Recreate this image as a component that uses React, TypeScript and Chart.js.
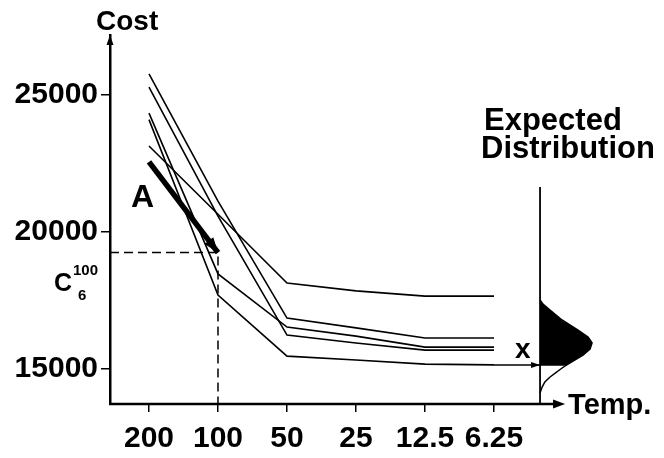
import React, { useEffect, useRef } from 'react';
import { Chart, registerables } from 'chart.js';

Chart.register(...registerables);

// ---- data ----
const temperatures = ['200', '100', '50', '25', '12.5', '6.25'];
const run1 = [25770, 21130, 16860, 16500, 16130, 16130];
const run2 = [25290, 20580, 16240, 15950, 15690, 15690];
const run3 = [24340, 18470, 16530, 16200, 15800, 15800];
const run4 = [24100, 17700, 15470, 15330, 15180, 15150];
const run5 = [23140, 20650, 18140, 17850, 17660, 17660];
const pathA = [22560, 19250]; // thick run "A" from T=200 to T=100
const c6At100 = 19250;
const yTicks = [15000, 20000, 25000];
const yMin = 13723;
const yMax = 27190;
const xMin = -0.565;
const xMax = 6.536;
const xAxisEnd = 6.03; // where the temperature axis arrow ends
const distAxisPos = 5.667; // position of distribution axis on temperature index scale
const distAxisTop = 21640;
// expected distribution: cost level vs. density (in index units)
const distCost = [17520, 17370, 17150, 16790, 16420, 16170, 15950, 15730, 15510, 15290, 15150];
const distDensity = [0, 0.043, 0.145, 0.319, 0.551, 0.696, 0.754, 0.725, 0.623, 0.478, 0.385];
const tailCost = [15150, 15000, 14850, 14710, 14530, 14340, 14120];
const tailDensity = [0.385, 0.3, 0.22, 0.145, 0.07, 0.03, 0];

const FONT = "'Liberation Sans', Arial, Helvetica, sans-serif";

const toPts = (vals: number[]) => vals.map((v, i) => ({ x: i, y: v }));

const annotPlugin = {
  id: 'annot',
  afterDraw(chart: any) {
    const ctx = chart.ctx as CanvasRenderingContext2D;
    const xs = chart.scales.x;
    const ys = chart.scales.y;
    const area = chart.chartArea;
    ctx.save();
    ctx.fillStyle = '#000';
    ctx.strokeStyle = '#000';
    const tri = (tipX: number, tipY: number, fromX: number, fromY: number, len: number, half: number) => {
      const ang = Math.atan2(tipY - fromY, tipX - fromX);
      const bx = tipX - len * Math.cos(ang);
      const by = tipY - len * Math.sin(ang);
      ctx.beginPath();
      ctx.moveTo(tipX, tipY);
      ctx.lineTo(bx + half * Math.sin(ang), by - half * Math.cos(ang));
      ctx.lineTo(bx - half * Math.sin(ang), by + half * Math.cos(ang));
      ctx.closePath();
      ctx.fill();
    };
    // x axis line
    const xEnd = xs.getPixelForValue(xAxisEnd);
    ctx.lineWidth = 2.5;
    ctx.beginPath();
    ctx.moveTo(area.left - 1, area.bottom);
    ctx.lineTo(xEnd - 6, area.bottom);
    ctx.stroke();
    // axis arrows
    tri(area.left, area.top, area.left, area.bottom, 10, 3.5);
    tri(xEnd, area.bottom, area.left, area.bottom, 12, 4.5);
    // arrow A
    const mA = chart.getDatasetMeta(5).data;
    if (mA.length >= 2) {
      const p0 = mA[0], p1 = mA[1];
      tri(p1.x, p1.y, p0.x, p0.y, 15, 5.5);
    }
    // x arrow to distribution
    const mX = chart.getDatasetMeta(7).data;
    if (mX.length >= 2) {
      tri(mX[1].x, mX[1].y, mX[0].x, mX[0].y, 9, 3);
    }
    // texts
    ctx.textBaseline = 'alphabetic';
    ctx.textAlign = 'left';
    ctx.font = `bold 28px ${FONT}`;
    ctx.fillText('Cost', 96, 30);
    ctx.font = `bold 31px ${FONT}`;
    ctx.fillText('Expected', 484, 130);
    ctx.fillText('Distribution', 481, 158);
    ctx.font = `bold 29px ${FONT}`;
    ctx.fillText('Temp.', xEnd + 3, 414);
    ctx.font = `bold 32px ${FONT}`;
    ctx.fillText('A', 131, 207);
    ctx.font = `bold 25px ${FONT}`;
    ctx.fillText('C', 54, 291);
    ctx.font = `bold 15px ${FONT}`;
    ctx.fillText('100', 73, 275);
    ctx.fillText('6', 78, 300);
    ctx.font = `bold 28px ${FONT}`;
    const yx = ys.getPixelForValue(run4[5]);
    ctx.fillText('x', xs.getPixelForValue(distAxisPos) - 25, yx - 7);
    ctx.restore();
  },
};

export default function App() {
  const ref = useRef<HTMLCanvasElement>(null);
  useEffect(() => {
    if (!ref.current) return;
    const thin = { borderColor: '#000', borderWidth: 1.6, pointRadius: 0, fill: false, tension: 0, clip: false };
    const chart = new Chart(ref.current, {
      type: 'line',
      data: {
        datasets: [
          { ...thin, data: toPts(run1) },
          { ...thin, data: toPts(run2) },
          { ...thin, data: toPts(run3) },
          { ...thin, data: toPts(run4) },
          { ...thin, data: toPts(run5) },
          { ...thin, borderWidth: 5.5, data: toPts(pathA) },
          {
            ...thin,
            borderWidth: 1.5,
            borderDash: [9, 5],
            data: [
              { x: xMin, y: c6At100 },
              { x: 1, y: c6At100 },
              { x: 1, y: yMin },
            ],
          },
          {
            ...thin,
            borderWidth: 1.5,
            data: [
              { x: 5, y: run4[5] },
              { x: distAxisPos, y: run4[5] },
            ],
          },
          {
            ...thin,
            borderWidth: 1.8,
            data: [
              { x: distAxisPos, y: yMin },
              { x: distAxisPos, y: distAxisTop },
            ],
          },
          {
            ...thin,
            borderWidth: 1.5,
            fill: 'shape',
            backgroundColor: '#000',
            data: [
              ...distCost.map((c, i) => ({ x: distAxisPos + distDensity[i], y: c })),
              { x: distAxisPos, y: distCost[distCost.length - 1] },
            ],
          },
          {
            ...thin,
            borderWidth: 1.5,
            data: tailCost.map((c, i) => ({ x: distAxisPos + tailDensity[i], y: c })),
          },
        ],
      } as any,
      options: {
        animation: false,
        responsive: false,
        devicePixelRatio: 1,
        layout: { padding: { top: 35, right: 64, bottom: 0, left: 0 } },
        plugins: { legend: { display: false }, tooltip: { enabled: false } },
        events: [],
        scales: {
          x: {
            type: 'linear',
            min: xMin,
            max: xMax,
            afterBuildTicks: (s: any) => {
              s.ticks = temperatures.map((_, i) => ({ value: i }));
            },
            afterFit: (s: any) => {
              s.height = 54;
            },
            ticks: {
              callback: (v: any) => temperatures[v as number] ?? '',
              font: { family: FONT, size: 30, weight: 'bold' },
              color: '#000',
              padding: 9,
              maxRotation: 0,
              autoSkip: false,
            },
            grid: { display: true, drawOnChartArea: false, drawTicks: true, tickLength: 8, color: '#000', lineWidth: 1.5 },
            border: { display: false },
          },
          y: {
            type: 'linear',
            min: yMin,
            max: yMax,
            afterBuildTicks: (s: any) => {
              s.ticks = yTicks.map((v) => ({ value: v }));
            },
            afterFit: (s: any) => {
              s.width = 110;
            },
            ticks: {
              callback: (v: any) => String(v),
              font: { family: FONT, size: 30, weight: 'bold' },
              color: '#000',
              padding: 3,
            },
            grid: { display: true, drawOnChartArea: false, drawTicks: true, tickLength: 9, color: '#000', lineWidth: 1.5 },
            border: { display: true, color: '#000', width: 2.5 },
          },
        },
      } as any,
      plugins: [annotPlugin],
    });
    return () => chart.destroy();
  }, []);
  return (
    <div style={{ position: 'absolute', left: 0, top: 0, width: 664, height: 458 }}>
      <canvas ref={ref} width={664} height={458} />
    </div>
  );
}
